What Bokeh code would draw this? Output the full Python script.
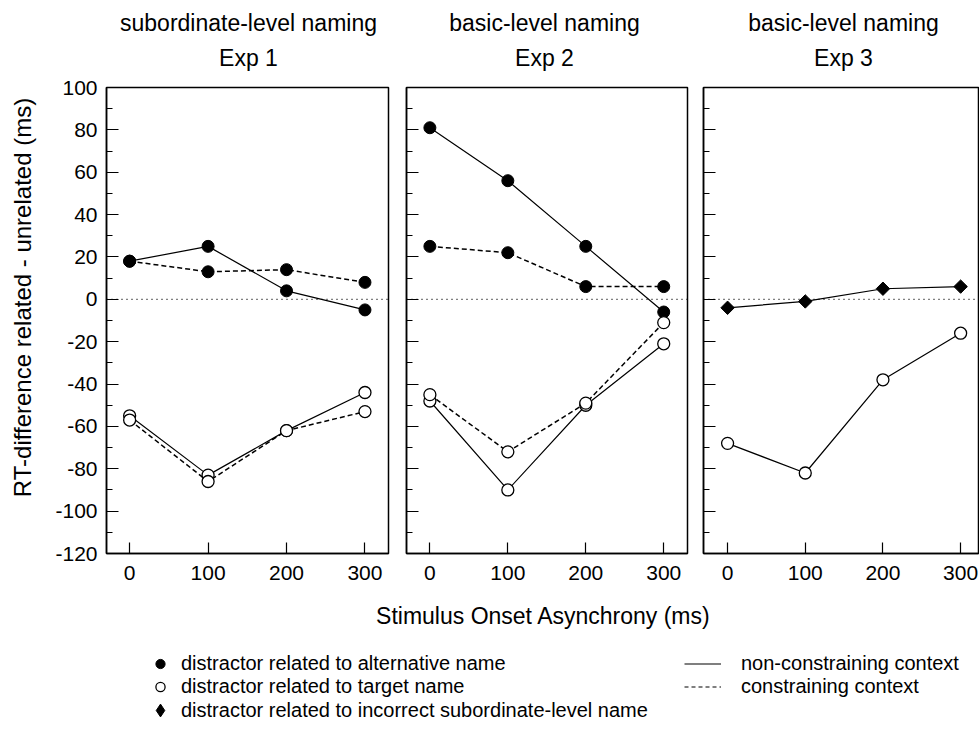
from bokeh.plotting import figure
from bokeh.models import (Range1d, Span, FixedTicker, SingleIntervalTicker,
                          CustomJSTickFormatter, Legend, LegendItem, ColumnDataSource, Label)
from bokeh.layouts import row, column
from bokeh.embed import file_html
from bokeh.resources import INLINE
import numpy as np

# ---------------- data ----------------
soa = [0, 100, 200, 300]
x_ticks = [0, 100, 200, 300]

exp1_alt_noncon = [18, 25, 4, -5]
exp1_alt_con = [18, 13, 14, 8]
exp1_tgt_noncon = [-55, -83, -62, -44]
exp1_tgt_con = [-57, -86, -62, -53]

exp2_alt_noncon = [81, 56, 25, -6]
exp2_alt_con = [25, 22, 6, 6]
exp2_tgt_noncon = [-48, -90, -50, -21]
exp2_tgt_con = [-45, -72, -49, -11]

exp3_inc_noncon = [-4, -1, 5, 6]
exp3_tgt_noncon = [-68, -82, -38, -16]

panel_titles = ["subordinate-level naming", "basic-level naming", "basic-level naming"]
panel_exps = ["Exp 1", "Exp 2", "Exp 3"]
y_label = "RT-difference related - unrelated (ms)"
x_label = "Stimulus Onset Asynchrony (ms)"
legend_markers = ["distractor related to alternative name",
                  "distractor related to target name",
                  "distractor related to incorrect subordinate-level name"]
legend_lines = ["non-constraining context", "constraining context"]

FONT = "Liberation Sans"
TITLE_SIZE = "23px"
TICK_SIZE = "21px"
LEG_SIZE = "20px"
FRAME_H = 466
HEAD_H = 75          # header strip holding the panel titles
TOP = 12
BOTTOM = 39
PANEL_H = TOP + FRAME_H + BOTTOM
FRAME_TOP = HEAD_H + TOP   # page y of the frames' top edge (87)
YL_W = 45            # strip holding the y-axis title
TOTAL_W = 979


def blank_fig(w, h, **kw):
    f = figure(width=w, height=h, x_range=Range1d(0, 1), y_range=Range1d(0, 1),
               output_backend="svg", toolbar_location=None,
               x_axis_type=None, y_axis_type=None, **kw)
    f.grid.visible = False
    f.outline_line_color = None
    f.border_fill_color = "white"
    f.background_fill_color = "white"
    return f


def make_panel(frame_w, x_rng, left_border, right_border, show_labels):
    p = figure(frame_width=frame_w, frame_height=FRAME_H,
               x_range=Range1d(*x_rng), y_range=Range1d(-120, 100),
               output_backend="svg", toolbar_location=None,
               min_border_left=left_border, min_border_right=right_border,
               min_border_top=TOP, min_border_bottom=BOTTOM,
               x_axis_location="below", y_axis_location="left")
    p.grid.visible = False
    p.outline_line_color = "black"
    p.outline_line_width = 1.5
    p.background_fill_color = "white"
    p.border_fill_color = "white"

    xa = p.xaxis[0]
    xa.ticker = FixedTicker(ticks=x_ticks, minor_ticks=[])
    xa.major_tick_in = 11
    xa.major_tick_out = 0
    xa.major_tick_line_width = 1.2
    xa.axis_line_width = 1.5
    xa.major_label_text_font = FONT
    xa.major_label_text_font_size = TICK_SIZE
    xa.major_label_text_color = "black"
    xa.major_label_standoff = 12

    ya = p.yaxis[0]
    ya.ticker = SingleIntervalTicker(interval=20, num_minor_ticks=2)
    ya.major_tick_in = 12
    ya.major_tick_out = 0
    ya.minor_tick_in = 6
    ya.minor_tick_out = 0
    ya.major_tick_line_width = 1.2
    ya.minor_tick_line_width = 1.0
    ya.axis_line_width = 1.5
    if show_labels:
        ya.formatter = CustomJSTickFormatter(code="return tick.toFixed(0)")
        ya.major_label_text_font = FONT
        ya.major_label_text_font_size = TICK_SIZE
        ya.major_label_text_color = "black"
        ya.major_label_standoff = 9
    else:
        ya.formatter = CustomJSTickFormatter(code="return ''")
        ya.major_label_standoff = 0
        ya.major_label_text_font_size = "1px"

    p.add_layout(Span(location=0, dimension="width", line_color="black",
                      line_dash="1 4", line_width=1.2))
    return p


def add_series(p, ys, dashed):
    dash = "5 3" if dashed else "solid"
    lw = 1.5 if dashed else 1.2
    p.line(soa, ys, line_color="black", line_width=lw, line_dash=dash)


def add_marks(p, ys, kind):
    if kind == "filled":
        p.scatter(soa, ys, marker="circle", size=12, fill_color="black",
                  line_color="black", line_width=1)
    elif kind == "open":
        p.scatter(soa, ys, marker="circle", size=12, fill_color="white",
                  line_color="black", line_width=1.3)
    else:
        p.scatter(soa, ys, marker="square", size=9.5, angle=np.pi / 4,
                  fill_color="black", line_color="black", line_width=1)


# ---------------- header with panel titles ----------------
hf = blank_fig(TOTAL_W, HEAD_H, min_border=0)
title_centers = [248, 544, 843]
for cx, t1, t2 in zip(title_centers, panel_titles, panel_exps):
    hf.add_layout(Label(x=cx, y=HEAD_H - 22, x_units="screen", y_units="screen",
                        text=t1, text_align="center", text_baseline="middle",
                        text_font=FONT, text_font_size=TITLE_SIZE, text_color="black"))
    hf.add_layout(Label(x=cx, y=HEAD_H - 57, x_units="screen", y_units="screen",
                        text=t2, text_align="center", text_baseline="middle",
                        text_font=FONT, text_font_size=TITLE_SIZE, text_color="black"))

# ---------------- y-axis title strip (its frame lines up with the panels' frames) ----------------
yl = blank_fig(YL_W, PANEL_H, min_border_left=0, min_border_right=0,
               min_border_top=TOP, min_border_bottom=BOTTOM)
yl.add_layout(Label(x=22, y=FRAME_H - (297 - FRAME_TOP), x_units="screen", y_units="screen",
                    text=y_label, angle=np.pi / 2, text_align="center",
                    text_baseline="middle", text_font=FONT, text_font_size="24px",
                    text_color="black"))

# ---------------- panels ----------------
p1 = make_panel(282, (-29.5, 330), 106 - YL_W, 9, True)
p2 = make_panel(281, (-30, 330.5), 9, 8, False)
p3 = make_panel(275, (-31, 323), 8, 1, False)

add_series(p1, exp1_alt_noncon, False)
add_series(p1, exp1_alt_con, True)
add_series(p1, exp1_tgt_noncon, False)
add_series(p1, exp1_tgt_con, True)
for ys in (exp1_alt_noncon, exp1_alt_con):
    add_marks(p1, ys, "filled")
for ys in (exp1_tgt_noncon, exp1_tgt_con):
    add_marks(p1, ys, "open")

add_series(p2, exp2_alt_noncon, False)
add_series(p2, exp2_alt_con, True)
add_series(p2, exp2_tgt_noncon, False)
add_series(p2, exp2_tgt_con, True)
for ys in (exp2_alt_noncon, exp2_alt_con):
    add_marks(p2, ys, "filled")
for ys in (exp2_tgt_noncon, exp2_tgt_con):
    add_marks(p2, ys, "open")

add_series(p3, exp3_inc_noncon, False)
add_series(p3, exp3_tgt_noncon, False)
add_marks(p3, exp3_inc_noncon, "diamond")
add_marks(p3, exp3_tgt_noncon, "open")

# ---------------- bottom figure: x title + legend ----------------
LEG_H = 130
lf = blank_fig(TOTAL_W, LEG_H, min_border=0)
lf.add_layout(Label(x=543, y=LEG_H - 23, x_units="screen", y_units="screen",
                    text=x_label, text_align="center", text_baseline="middle",
                    text_font=FONT, text_font_size=TITLE_SIZE, text_color="black"))

# legend sample renderers: their single point lies outside the visible range
off_pt = dict(x=[5], y=[5])
off_ln = dict(x=[5, 6], y=[5, 5])
r_f = lf.scatter("x", "y", source=ColumnDataSource(off_pt), marker="circle", size=12,
                 fill_color="black", line_color="black")
r_o = lf.scatter("x", "y", source=ColumnDataSource(off_pt), marker="circle", size=12,
                 fill_color="white", line_color="black", line_width=1.3)
r_d = lf.scatter("x", "y", source=ColumnDataSource(off_pt), marker="diamond", size=15,
                 fill_color="black", line_color="black")
r_s = lf.line("x", "y", source=ColumnDataSource(off_ln), line_color="black", line_width=1.2)
r_c = lf.line("x", "y", source=ColumnDataSource(off_ln), line_color="black", line_width=1.2,
              line_dash="4 3")

ROW_H = 23
LEG_TOP = 60
MARK_X = 160     # centre of the legend marker glyphs
TEXT_X = 181     # start of the legend labels
leg_common = dict(spacing=0, padding=0, margin=0, label_text_font=FONT,
                  label_text_font_size=LEG_SIZE, label_text_color="black",
                  border_line_color=None, background_fill_alpha=0)
leg1 = Legend(items=[LegendItem(label=legend_markers[0], renderers=[r_f]),
                     LegendItem(label=legend_markers[1], renderers=[r_o])],
              location=(MARK_X - 12, LEG_H - (LEG_TOP + 2 * ROW_H)), glyph_width=24,
              glyph_height=ROW_H, label_height=ROW_H,
              label_standoff=TEXT_X - (MARK_X + 12), **leg_common)
# third marker row gets a taller glyph box so the diamond is drawn larger
D_BOX = 32
HALF = D_BOX // 2
d_center = LEG_TOP + 2 * ROW_H + 12
leg1b = Legend(items=[LegendItem(label=legend_markers[2], renderers=[r_d])],
               location=(MARK_X - HALF, LEG_H - (d_center + HALF)),
               glyph_width=D_BOX, glyph_height=D_BOX, label_height=D_BOX,
               label_standoff=int(TEXT_X - (MARK_X + HALF)), **leg_common)
leg2 = Legend(items=[LegendItem(label=legend_lines[0], renderers=[r_s]),
                     LegendItem(label=legend_lines[1], renderers=[r_c])],
              location=(684, LEG_H - (LEG_TOP + 2 * ROW_H)), glyph_width=37,
              glyph_height=ROW_H, label_height=ROW_H, label_standoff=20, **leg_common)
lf.add_layout(leg1, "center")
lf.add_layout(leg1b, "center")
lf.add_layout(leg2, "center")

layout = column(hf, row(yl, p1, p2, p3), lf)

open("out.html", "w").write(file_html(layout, INLINE))
